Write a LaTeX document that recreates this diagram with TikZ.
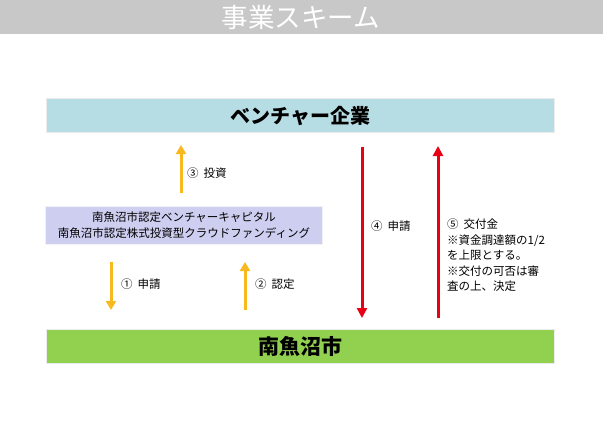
\documentclass[tikz,border=0pt]{standalone}
\usepackage{fontspec}
\setmainfont{Noto Sans CJK JP}
\usetikzlibrary{arrows.meta}
\definecolor{titlegray}{RGB}{200,200,200}
\definecolor{venblue}{RGB}{183,221,228}
\definecolor{citygreen}{RGB}{146,208,80}
\definecolor{vclav}{RGB}{206,206,240}
\definecolor{arrorange}{RGB}{247,185,30}
\definecolor{arrred}{RGB}{232,0,20}
\tikzset{
  x=1pt,y=-1pt,
  bar/.style={draw=white!85!gray,line width=0.8pt,minimum width=508pt,minimum height=34pt,inner sep=0pt},
  orarrow/.style={draw=arrorange,line width=3pt,-{Triangle[width=10pt,length=9pt]}},
  redarrow/.style={draw=arrred,line width=3pt,-{Triangle[width=10pt,length=10pt]}},
  lbl/.style={font=\fontsize{11.5}{15.5}\selectfont,inner sep=0pt,anchor=west,align=left},
}
\begin{document}
\begin{tikzpicture}
\useasboundingbox (0,0) rectangle (603,424);
\fill[titlegray] (0,0) rectangle (603,34);
\node[text=white,font=\fontsize{26.5}{28}\selectfont] (title) at (301,17) {事業スキーム};
\node[bar,fill=venblue,font=\fontsize{20}{22}\selectfont\bfseries] (ven) at (300.5,115.5) {ベンチャー企業};
\node[bar,fill=citygreen,font=\fontsize{21}{23}\selectfont\bfseries] (city) at (300.5,346) {南魚沼市};
\node[fill=vclav,draw=white!90!gray,line width=0.6pt,minimum width=277pt,minimum height=38pt,inner sep=0pt,align=center,font=\fontsize{11.5}{16.5}\selectfont] (vc) at (184,225) {南魚沼市認定ベンチャーキャピタル\\南魚沼市認定株式投資型クラウドファンディング};
% orange arrows
\coordinate (a3s) at (181,193);
\coordinate (a3e) at (181,145);
\draw[orarrow] (a3s) -- (a3e);
\node[lbl] (l3) at (187,173) {③\hspace{5pt}投資};
\coordinate (a1s) at (111,262);
\coordinate (a1e) at (111,310);
\draw[orarrow] (a1s) -- (a1e);
\node[lbl] (l1) at (121,284) {①\hspace{5pt}申請};
\coordinate (a2s) at (245,310);
\coordinate (a2e) at (245,262);
\draw[orarrow] (a2s) -- (a2e);
\node[lbl] (l2) at (255,284) {②\hspace{5pt}認定};
% red arrows
\coordinate (a4s) at (362,147);
\coordinate (a4e) at (362,318);
\draw[redarrow] (a4s) -- (a4e);
\node[lbl] (l4) at (371,226) {④\hspace{5pt}申請};
\coordinate (a5s) at (438,318);
\coordinate (a5e) at (438,146);
\draw[redarrow] (a5s) -- (a5e);
\node[lbl,anchor=north west] (l5) at (447,219) {⑤\hspace{5pt}交付金\\※資金調達額の1/2\\を上限とする。\\※交付の可否は審\\査の上、決定};
\end{tikzpicture}
\end{document}
